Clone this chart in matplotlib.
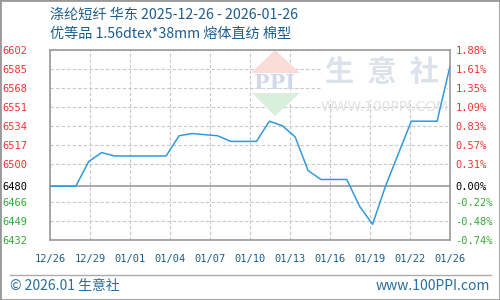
import matplotlib
matplotlib.use('Agg')
import matplotlib.pyplot as plt
import pandas as pd
import numpy as np
from matplotlib.patches import Polygon, Rectangle
from matplotlib.lines import Line2D

# daily price, 12/26 .. 01/26
dates = pd.date_range('2025-12-26', '2026-01-26').strftime('%m/%d').tolist()
prices = [6480, 6480, 6480, 6502, 6510, 6507, 6507, 6507, 6507, 6507,
          6525, 6527, 6526, 6525, 6520, 6520, 6520, 6538, 6534, 6524,
          6494, 6486, 6486, 6486, 6462, 6446, 6480, 6509, 6538, 6538,
          6538, 6587]
base_price = 6480
price_ticks = [6432, 6449, 6466, 6480, 6500, 6517, 6534, 6551, 6568, 6585, 6602]
pct_labels = ['-0.74%', '-0.48%', '-0.22%', '0.00%', '0.31%', '0.57%',
              '0.83%', '1.09%', '1.35%', '1.61%', '1.88%']
date_labels = ['12/26', '12/29', '01/01', '01/04', '01/07', '01/10',
               '01/13', '01/16', '01/19', '01/22', '01/26']
title1 = '涤纶短纤 华东 2025-12-26 - 2026-01-26'
title2 = '优等品 1.56dtex*38mm 熔体直纺 棉型'

CJK = ['Noto Sans CJK SC', 'DejaVu Sans']
BLUE_TXT = '#1d5d8e'
RED, GREEN, BLACK = '#ee3333', '#33aa33', '#000000'


def fx(px):
    return px / 500


def fy(py):
    return 1 - py / 300


def sign_color(v):
    if v > base_price:
        return RED
    if v < base_price:
        return GREEN
    return BLACK


fig = plt.figure(figsize=(5, 3), dpi=100)
ax = fig.add_axes([fx(50), fy(240), fx(400), 190.5 / 300])

x = np.arange(len(prices))
ax.set_xlim(0, len(prices) - 1)
ax.set_ylim(price_ticks[0], price_ticks[-1])

# grid
ax.set_axisbelow(True)
ax.set_xticks(np.linspace(0, len(prices) - 1, len(date_labels)))
ax.set_xticklabels(date_labels)
ax.set_yticks(price_ticks)
ax.grid(True, color='#c8c8c8', lw=0.8, linestyle=(0, (3, 2)))
for gl, v in zip(ax.get_ygridlines(), price_ticks):
    if v == base_price:
        gl.set_visible(False)
ax.axhline(base_price, color='#999999', lw=1.2, zorder=2)

# watermark
tr = fig.transFigure
ax.add_patch(Rectangle((fx(322), fy(100)), fx(125), 50 / 300, transform=tr,
                       facecolor='white', edgecolor='none', zorder=1))
ax.add_patch(Polygon([(fx(275), fy(50)), (fx(251), fy(73)), (fx(300), fy(73))],
                     closed=True, transform=tr, facecolor='#f9dcd6',
                     edgecolor='none', zorder=1.2))
ax.add_patch(Polygon([(fx(252), fy(93)), (fx(300), fy(93)), (fx(275), fy(116))],
                     closed=True, transform=tr, facecolor='#d9efdc',
                     edgecolor='none', zorder=1.2))
ax.text(fx(275), fy(83), 'PPI', transform=tr, ha='center', va='center',
        fontsize=15, fontweight='bold', family='DejaVu Serif', color='#d0d8ea',
        zorder=1.3)
ax.text(fx(382), fy(72), '生  意  社', transform=tr, ha='center', va='center',
        fontsize=21, fontweight='bold', family=CJK, color='#dde1ea', zorder=1.3)
ax.text(fx(385), fy(107), 'WWW.100PPI.COM', transform=tr, ha='center',
        va='center', fontsize=10, family='DejaVu Sans', color='#e2e2e2',
        zorder=1.3)

# price line
ax.plot(x, prices, color='#3399dd', lw=1.1, zorder=3)

for sp in ax.spines.values():
    sp.set_color('#999999')
    sp.set_linewidth(1.2)

ax.tick_params(axis='both', length=0)
ax.tick_params(axis='x', pad=10, labelsize=7.5, colors=BLUE_TXT)
ax.tick_params(axis='y', pad=16, labelsize=7.5)
for lab in ax.get_xticklabels():
    lab.set_family('DejaVu Sans Mono')
for lab, v in zip(ax.get_yticklabels(), price_ticks):
    lab.set_color(sign_color(v))
    lab.set_family('DejaVu Sans Mono')

# percent axis on the right
ax2 = ax.twinx()
ax2.set_ylim(ax.get_ylim())
ax2.set_yticks(price_ticks)
ax2.set_yticklabels(pct_labels)
ax2.tick_params(axis='y', length=0, pad=4, labelsize=7.5)
for sp in ax2.spines.values():
    sp.set_visible(False)
for lab, v in zip(ax2.get_yticklabels(), price_ticks):
    lab.set_color(sign_color(v))
    lab.set_family('DejaVu Sans Mono')

# titles
fig.text(fx(50), fy(15), title1, fontsize=10.2, color=BLUE_TXT, va='center',
         family=CJK)
fig.text(fx(50), fy(34), title2, fontsize=10.2, color=BLUE_TXT, va='center',
         family=CJK)

# footer
fig.add_artist(Line2D([fx(10), fx(491)], [fy(275), fy(275)], transform=tr,
                      color='#aaaaaa', lw=1))
fig.text(fx(10), fy(286), '© 2026.01 生意社', fontsize=10, color='#2a6d9e',
         va='center', family=CJK)
fig.text(fx(490), fy(286), 'www.100PPI.com', fontsize=10, color='#2a6d9e',
         va='center', ha='right', family=CJK)

fig.add_artist(Rectangle((0, 0), 1, 1, transform=tr, fill=False,
                         edgecolor='#999999', lw=2))

fig.savefig('out.png', dpi=100)
